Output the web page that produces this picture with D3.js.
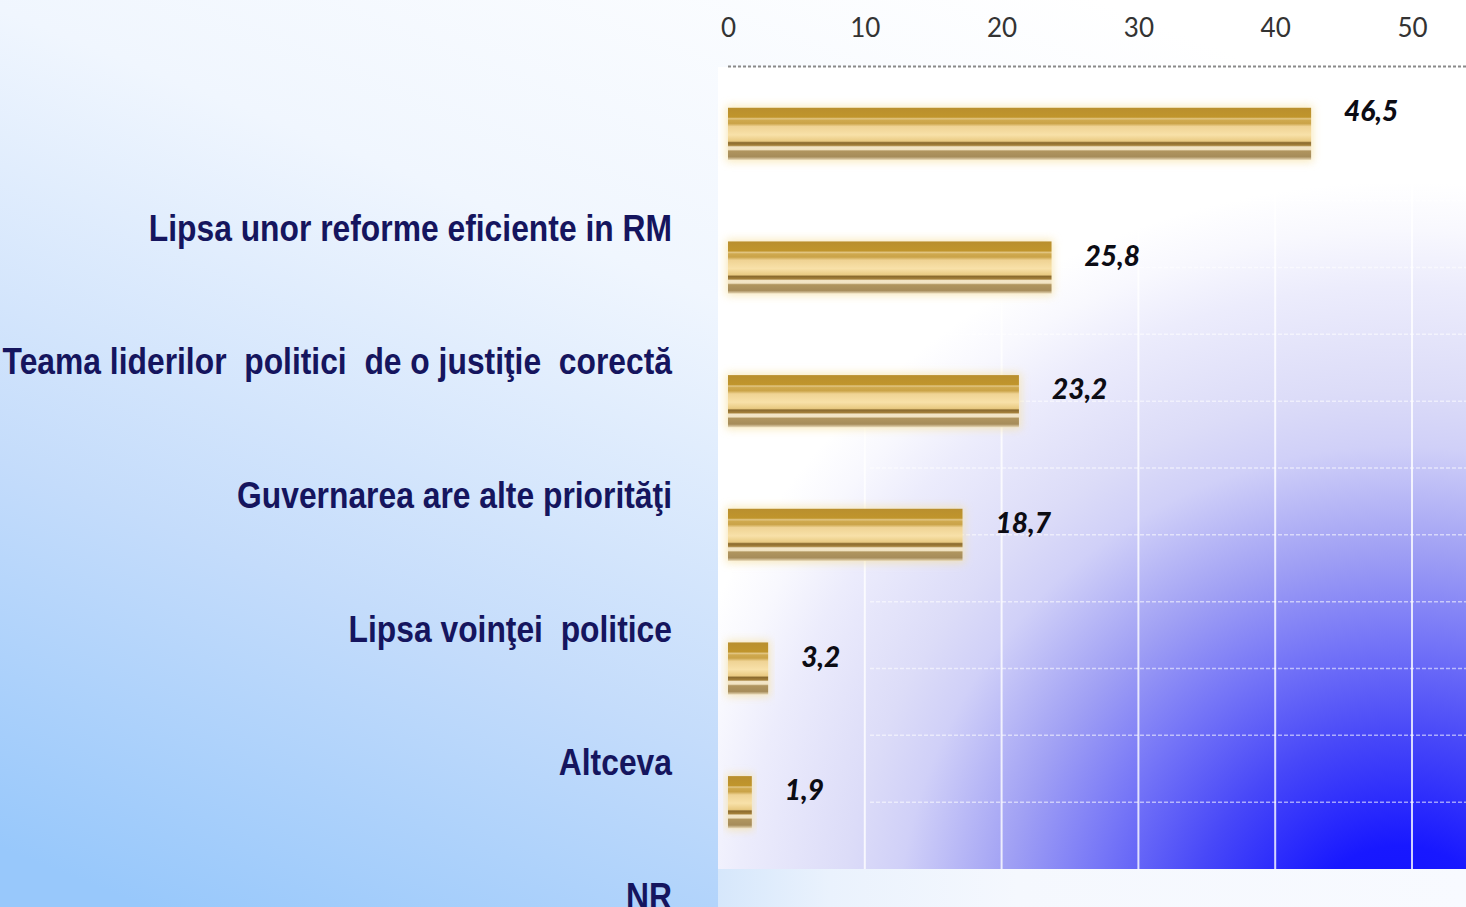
<!DOCTYPE html>
<html>
<head>
<meta charset="utf-8">
<script src="https://cdn.jsdelivr.net/npm/d3@7"></script>
<style>
  html, body { margin: 0; padding: 0; background: #ffffff; }
  svg { display: block; }
</style>
</head>
<body>
<div id="chart"></div>
<script>
// Daten
const categories = [
  "Lipsa unor reforme eficiente in RM",
  "Teama liderilor  politici  de o justiţie  corectă",
  "Guvernarea are alte priorităţi",
  "Lipsa voinţei  politice",
  "Altceva",
  "NR"
];
const values = [46.5, 25.8, 23.2, 18.7, 3.2, 1.9];
const valueLabels = ["46,5", "25,8", "23,2", "18,7", "3,2", "1,9"];
const ticks = [0, 10, 20, 30, 40, 50];

const width = 1466, height = 907;

const svg = d3.select("#chart").append("svg")
  .attr("width", width)
  .attr("height", height);

const defs = svg.append("defs");

// --- Hintergrund: hellblau links unten, weiß oben rechts ---
const bg = defs.append("linearGradient")
  .attr("id", "bgGrad")
  .attr("x1", "0.75").attr("y1", "0")
  .attr("x2", "0.1").attr("y2", "1");
bg.append("stop").attr("offset", "0").attr("stop-color", "#ffffff");
bg.append("stop").attr("offset", "0.35").attr("stop-color", "#f0f6fe");
bg.append("stop").attr("offset", "0.7").attr("stop-color", "#c4dcfb");
bg.append("stop").attr("offset", "1").attr("stop-color", "#98c8fb");

// Streifen unter dem Plotbereich, fast weiß
const bottomGrad = defs.append("linearGradient")
  .attr("id", "bottomGrad")
  .attr("x1", 0).attr("y1", 0).attr("x2", 1).attr("y2", 0);
bottomGrad.append("stop").attr("offset", "0").attr("stop-color", "#d6e7fb");
bottomGrad.append("stop").attr("offset", "0.15").attr("stop-color", "#eaf2fd");
bottomGrad.append("stop").attr("offset", "0.4").attr("stop-color", "#f5f8fe");
bottomGrad.append("stop").attr("offset", "1").attr("stop-color", "#f8faff");

// Plotbereich: blau-violetter Verlauf, Zentrum knapp unterhalb der rechten unteren Ecke
const plotGrad = defs.append("radialGradient")
  .attr("id", "plotGrad")
  .attr("gradientUnits", "userSpaceOnUse")
  .attr("cx", 1400).attr("cy", 950).attr("r", 800);
[["0", "#1010ff"], ["0.13", "#1818ff"], ["0.27", "#4848f8"], ["0.39", "#7676f7"],
 ["0.5", "#a0a0f4"], ["0.63", "#d0d0f8"], ["0.7", "#dcdcf8"], ["0.83", "#ececfc"],
 ["0.9", "#f8f8fe"], ["0.96", "#ffffff"]].forEach(s =>
  plotGrad.append("stop").attr("offset", s[0]).attr("stop-color", s[1]));

// Goldene Balken mit Streifen
const barGrad = defs.append("linearGradient")
  .attr("id", "barGrad")
  .attr("x1", 0).attr("y1", 0).attr("x2", 0).attr("y2", 1);
[["0", "#b98f2e"], ["0.18", "#c0952c"], ["0.21", "#e2c684"], ["0.24", "#cfa94e"],
 ["0.3", "#caa348"], ["0.36", "#efd394"], ["0.52", "#f8e1a9"], ["0.64", "#e9ca82"],
 ["0.67", "#8a6a2e"], ["0.72", "#a4803a"], ["0.75", "#f3e6c8"], ["0.8", "#f1e3c2"],
 ["0.83", "#b0955f"], ["0.94", "#a68c5a"], ["1", "#e8d9b8"]].forEach(s =>
  barGrad.append("stop").attr("offset", s[0]).attr("stop-color", s[1]));

const glow = defs.append("filter").attr("id", "glow")
  .attr("x", "-10%").attr("y", "-40%").attr("width", "120%").attr("height", "180%");
glow.append("feGaussianBlur").attr("stdDeviation", 4);

svg.append("rect")
  .attr("width", width).attr("height", height)
  .attr("fill", "url(#bgGrad)");

// --- Skalen ---
// Achse (Ticks) und Balken sind im Original nicht gleich skaliert
const xAxis = d3.scaleLinear().domain([0, 50]).range([728, 1412]);
const xBar = d3.scaleLinear().domain([0, 50]).range([728, 1355]);
const y = d3.scaleBand()
  .domain(categories)
  .range([67, 869])
  .paddingInner(0.61)
  .paddingOuter(0.305);

// Plotbereich
svg.append("rect")
  .attr("x", 718).attr("y", 869)
  .attr("width", width - 718).attr("height", height - 869)
  .attr("fill", "url(#bottomGrad)");

svg.append("rect")
  .attr("x", 718).attr("y", 67)
  .attr("width", width - 718).attr("height", 869 - 67)
  .attr("fill", "url(#plotGrad)");

// horizontale Hilfslinien (halbe Schritte)
const hLines = [];
categories.slice(1).forEach(c => {
  hLines.push(y(c) + y.bandwidth() / 2);
  hLines.push(y(c) + y.bandwidth() / 2 - y.step() / 2);
});
svg.append("g").selectAll("line")
  .data(hLines)
  .enter().append("line")
  .attr("x1", 870).attr("x2", width)
  .attr("y1", d => d).attr("y2", d => d)
  .attr("stroke", "#ffffff")
  .attr("stroke-opacity", 0.55)
  .attr("stroke-width", 1.5)
  .attr("stroke-dasharray", "4 2");

// vertikale Gitterlinien
svg.append("g").selectAll("line")
  .data(ticks.slice(1))
  .enter().append("line")
  .attr("x1", d => xAxis(d)).attr("x2", d => xAxis(d))
  .attr("y1", 67).attr("y2", 869)
  .attr("stroke", "#ffffff")
  .attr("stroke-opacity", 0.8)
  .attr("stroke-width", 2);

// gepunktete Linie oben
svg.append("line")
  .attr("x1", 728).attr("x2", width)
  .attr("y1", 66.5).attr("y2", 66.5)
  .attr("stroke", "#8a8a8a")
  .attr("stroke-width", 2)
  .attr("stroke-dasharray", "3 2");

// Achse oben
const axisG = svg.append("g")
  .attr("transform", "translate(0,37)")
  .call(d3.axisTop(xAxis).tickValues(ticks).tickSize(0).tickPadding(0));
axisG.select(".domain").remove();
axisG.selectAll("text")
  .style("font-family", "Lato, 'Open Sans', sans-serif")
  .style("font-size", "26px")
  .attr("fill", "#333333");

// Balken: Schein + Balken
const rows = categories.map((c, i) => ({ cat: c, value: values[i], label: valueLabels[i] }));

svg.append("g").selectAll("rect")
  .data(rows)
  .enter().append("rect")
  .attr("x", xBar(0) - 2)
  .attr("y", d => y(d.cat) - 2)
  .attr("width", d => xBar(d.value) - xBar(0) + 4)
  .attr("height", y.bandwidth() + 4)
  .attr("fill", "#f6e2a4")
  .attr("opacity", 0.7)
  .attr("filter", "url(#glow)");

svg.append("g").selectAll("rect")
  .data(rows)
  .enter().append("rect")
  .attr("x", xBar(0))
  .attr("y", d => y(d.cat))
  .attr("width", d => xBar(d.value) - xBar(0))
  .attr("height", y.bandwidth())
  .attr("fill", "url(#barGrad)");

// Wertebeschriftungen
svg.append("g").selectAll("text")
  .data(rows)
  .enter().append("text")
  .attr("x", d => xBar(d.value) + 33)
  .attr("y", (d, i) => y(d.cat) + y.bandwidth() / 2 + (i === 0 ? -13 : -2))
  .text(d => d.label)
  .style("font-family", "Lato, 'Open Sans', sans-serif")
  .style("font-weight", "900")
  .style("font-style", "italic")
  .style("font-size", "28px")
  .attr("fill", "#0c0c14");

// Kategorien (im Original gegenüber den Balken nach unten versetzt),
// schmale Schrift durch horizontale Stauchung nachgebildet
svg.append("g").selectAll("text")
  .data(rows)
  .enter().append("text")
  .attr("transform", d => `translate(672,${y(d.cat) + y.bandwidth() / 2 + 94}) scale(0.86,1)`)
  .attr("dy", "0.35em")
  .attr("text-anchor", "end")
  .text(d => d.cat)
  .style("font-family", "'Liberation Sans', Arial, sans-serif")
  .style("font-weight", "bold")
  .style("font-size", "37px")
  .style("white-space", "pre")
  .attr("fill", "#15155e");
</script>
</body>
</html>
